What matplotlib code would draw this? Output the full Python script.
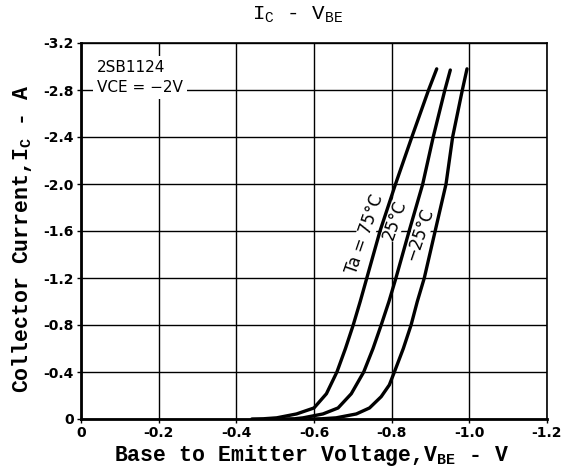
import matplotlib
matplotlib.use("Agg")
import matplotlib.pyplot as plt

plt.rcParams["mathtext.fontset"] = "custom"
plt.rcParams["mathtext.rm"] = "Liberation Mono"
plt.rcParams["mathtext.bf"] = "Liberation Mono:bold"
plt.rcParams["mathtext.it"] = "Liberation Mono"

# Data (V_BE in V, I_C in A)
vbe_75 = [-0.44, -0.47, -0.504, -0.555, -0.600, -0.632, -0.659, -0.681, -0.701, -0.719,
          -0.736, -0.770, -0.810, -0.852, -0.895, -0.916]
ic_75 = [0.0, -0.002, -0.01, -0.043, -0.094, -0.215, -0.40, -0.60, -0.80, -1.00,
         -1.20, -1.60, -2.00, -2.40, -2.80, -2.98]

vbe_25 = [-0.52, -0.55, -0.572, -0.623, -0.662, -0.696, -0.728, -0.752, -0.773, -0.793,
          -0.811, -0.845, -0.880, -0.907, -0.937, -0.951]
ic_25 = [0.0, -0.002, -0.01, -0.043, -0.094, -0.215, -0.40, -0.60, -0.80, -1.00,
         -1.20, -1.60, -2.00, -2.40, -2.80, -2.97]

vbe_m25 = [-0.59, -0.62, -0.657, -0.709, -0.743, -0.773, -0.794, -0.807, -0.830, -0.850,
           -0.866, -0.884, -0.912, -0.940, -0.957, -0.982, -0.994]
ic_m25 = [0.0, -0.002, -0.01, -0.043, -0.094, -0.19, -0.29, -0.40, -0.60, -0.80,
          -1.00, -1.20, -1.60, -2.00, -2.40, -2.80, -2.98]

x_ticks = [0, -0.2, -0.4, -0.6, -0.8, -1.0, -1.2]
x_tick_labels = ["0", "-0.2", "-0.4", "-0.6", "-0.8", "-1.0", "-1.2"]
y_ticks = [0, -0.4, -0.8, -1.2, -1.6, -2.0, -2.4, -2.8, -3.2]
y_tick_labels = ["0", "-0.4", "-0.8", "-1.2", "-1.6", "-2.0", "-2.4", "-2.8", "-3.2"]

fig = plt.figure(figsize=(5.63, 4.72), dpi=100)
ax = fig.add_axes([81/563, 1-419/472, 466/563, 376/472])

ax.set_xlim(0, -1.2)
ax.set_ylim(0, -3.2)
ax.set_xticks(x_ticks)
ax.set_xticklabels(x_tick_labels, fontsize=10, fontweight="bold")
ax.set_yticks(y_ticks)
ax.set_yticklabels(y_tick_labels, fontsize=10, fontweight="bold")
ax.tick_params(length=3, width=1, pad=2)
ax.grid(True, color="black", linewidth=1.0)
ax.set_axisbelow(True)
for side in ["left", "bottom"]:
    ax.spines[side].set_linewidth(2.0)
for side in ["top", "right"]:
    ax.spines[side].set_linewidth(1.2)

lw = 2.4
for xs, ys in [(vbe_75, ic_75), (vbe_25, ic_25), (vbe_m25, ic_m25)]:
    ax.plot(xs, ys, color="black", linewidth=lw, solid_capstyle="round",
            solid_joinstyle="round", zorder=3)

lab_kw = dict(fontsize=12, rotation=71, ha="center", va="center",
              family="DejaVu Sans", zorder=2)
wb = dict(fc="white", ec="none", pad=0.3)
ax.text(-0.732, -1.57, "Ta = 75°C", bbox=wb, **lab_kw)
ax.text(-0.809, -1.69, "25°C", bbox=wb, **lab_kw)
ax.text(-0.872, -1.57, "\u221225°C", bbox=wb, **lab_kw)

ax.text(0.035, 0.955, "2SB1124\nVCE = \u22122V", transform=ax.transAxes,
        fontsize=11, ha="left", va="top", linespacing=1.45,
        bbox=dict(fc="white", ec="none", pad=3))

fig.text(0.528, 0.968, r"I$_{\rm C}$ - V$_{\rm BE}$", fontsize=15,
         family="Liberation Mono", ha="center", va="center")

mono = "Liberation Mono"
fig.text(0.553, 0.034, r"Base to Emitter Voltage,V$_{\mathbf{BE}}$ - V", fontsize=15.5,
         fontweight="bold", family=mono, ha="center", va="center")
fig.text(0.039, 0.494, r"Collector Current,I$_{\mathbf{C}}$ - A", fontsize=15.5,
         fontweight="bold", family=mono, ha="center", va="center", rotation=90)

fig.savefig("out.png", dpi=100)
